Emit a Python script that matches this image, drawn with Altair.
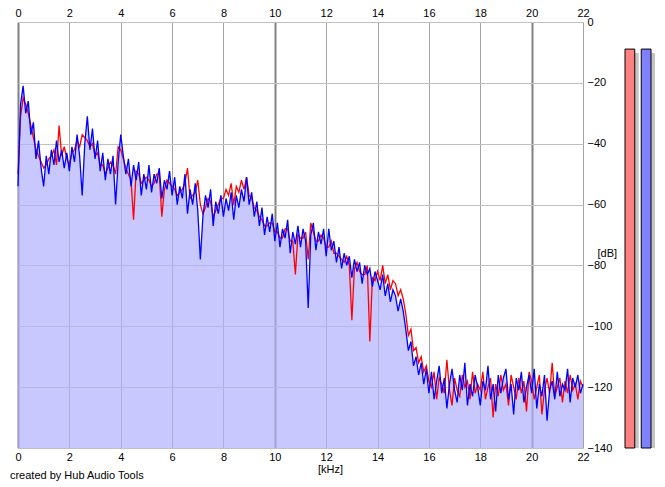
import altair as alt
import pandas as pd

# Frequency bins (kHz), 0.1 kHz spacing
freq_khz = [round(i * 0.1, 1) for i in range(221)]

# Left channel (red) level in dB
left_db = [
    -50, -31, -25, -27, -30, -34, -38, -42, -44, -46,
    -48, -47, -45, -44, -42, -47, -34, -44, -41, -45,
    -47, -43, -42, -39, -41, -37, -38, -39, -41, -40,
    -44, -43, -47, -47, -50, -48, -46, -47, -50, -41,
    -42, -45, -48, -50, -52, -65, -49, -50, -53, -52,
    -51, -52, -54, -53, -50, -50, -64, -55, -52, -53,
    -54, -55, -57, -56, -55, -53, -48, -58, -57, -56,
    -52, -60, -63, -61, -58, -59, -64, -62, -60, -58,
    -58, -55, -57, -53, -60, -54, -56, -52, -55, -51,
    -57, -58, -61, -62, -64, -65, -67, -67, -66, -66,
    -69, -69, -71, -71, -68, -68, -72, -72, -83, -70,
    -71, -71, -69, -78, -66, -69, -72, -72, -70, -71,
    -74, -74, -72, -76, -76, -77, -78, -79, -77, -80,
    -98, -81, -79, -82, -83, -83, -80, -105, -84, -85,
    -82, -85, -80, -86, -83, -88, -85, -86, -90, -88,
    -91, -96, -103, -101, -108, -107, -112, -110, -115, -113,
    -118, -120, -115, -124, -117, -119, -122, -111, -121, -126,
    -117, -121, -123, -116, -120, -118, -124, -115, -122, -119,
    -121, -115, -124, -120, -117, -130, -119, -123, -116, -121,
    -119, -126, -116, -120, -124, -117, -122, -118, -128, -115,
    -118, -124, -120, -116, -129, -121, -117, -122, -112, -123,
    -120, -117, -125, -118, -122, -116, -121, -119, -124, -118,
    -120,
]

# Right channel (blue) level in dB
right_db = [
    -54, -27, -21, -30, -26, -37, -33, -45, -39, -48,
    -54, -44, -50, -42, -47, -39, -46, -42, -48, -43,
    -49, -41, -46, -37, -44, -57, -40, -31, -42, -35,
    -45, -39, -49, -43, -52, -45, -50, -44, -60, -46,
    -37, -44, -50, -45, -54, -47, -52, -46, -57, -50,
    -55, -47, -56, -50, -53, -48, -58, -52, -55, -49,
    -57, -51, -60, -54, -58, -50, -63, -55, -60, -53,
    -62, -78, -64, -57, -61, -55, -67, -59, -63, -57,
    -64, -58, -62, -56, -65, -57, -61, -55, -59, -51,
    -60, -56, -64, -59, -67, -61, -70, -64, -69, -63,
    -72, -66, -74, -68, -71, -65, -76, -69, -73, -67,
    -74, -68, -72, -94, -70, -66, -75, -69, -73, -68,
    -77, -68, -75, -72, -79, -74, -81, -76, -80, -77,
    -84, -78, -82, -79, -86, -80, -83, -81, -87, -82,
    -85, -88, -83, -90, -86, -92, -88, -90, -95, -91,
    -95, -101, -108, -105, -113, -110, -116, -112, -119, -114,
    -122, -115, -124, -118, -113, -122, -117, -127, -119, -114,
    -121, -125, -116, -121, -112, -126, -119, -123, -116, -120,
    -126, -118, -121, -113, -124, -119, -128, -116, -122, -117,
    -114, -124, -119, -129, -117, -121, -115, -125, -120, -116,
    -122, -114, -127, -119, -123, -116, -131, -121, -118, -124,
    -115, -123, -119, -121, -114, -125, -117, -120, -116, -122,
    -119,
]

meter_channels = ["L", "R"]
meter_levels_db = [-8.9, -8.9]
meter_colors = ["#ff8080", "#8080ff"]

x_ticks = list(range(0, 23, 2))
y_ticks = list(range(0, -141, -20))

FONT = "Liberation Sans"

df = pd.DataFrame({"f": freq_khz, "red": left_db, "blue": right_db})
mdf = pd.DataFrame({"ch": meter_channels, "level": meter_levels_db})

xs = alt.Scale(domain=[0, 22], nice=False, zero=False)
ys = alt.Scale(domain=[-140, 0], nice=False)

major = "datum.value % 10 === 0"

bottom_axis = alt.Axis(
    orient="bottom", values=x_ticks, grid=True,
    gridColor=alt.condition(major, alt.value("#808080"), alt.value("#a4a4a4")),
    gridWidth=alt.condition(major, alt.value(2), alt.value(1)),
    domain=False, ticks=False, labelFlush=False, labelPadding=3,
    labelFont=FONT, labelFontSize=11, labelColor="black",
    title="[kHz]", titleFont=FONT, titleFontSize=11, titleFontWeight="normal",
    titleColor="black", titleX=312, titleY=21, titleAlign="center",
    titleBaseline="middle", titleAngle=0,
)
top_axis = alt.Axis(
    orient="top", values=x_ticks, grid=False, domain=False, ticks=False,
    labelFlush=False, labelPadding=4, labelFont=FONT, labelFontSize=11,
    labelColor="black", title=None,
)
right_axis = alt.Axis(
    orient="right", values=y_ticks, grid=True, gridColor="#c0c0c0", gridWidth=1,
    domain=False, ticks=False, labelAlign="left", labelPadding=4,
    labelFont=FONT, labelFontSize=11, labelColor="black",
    title="[dB]", titleFont=FONT, titleFontSize=11, titleFontWeight="normal",
    titleColor="black", titleAngle=0, titleX=14, titleY=231,
    titleAlign="left", titleBaseline="middle",
)

base = alt.Chart(df)
area = base.mark_area(color="#b0b0ff", opacity=0.7).encode(
    x=alt.X("f:Q", scale=xs, axis=bottom_axis),
    y=alt.Y("blue:Q", scale=ys, axis=right_axis),
    y2=alt.datum(-140),
)
red_line = base.mark_line(color="#ff0000", strokeWidth=1.3).encode(
    x=alt.X("f:Q", scale=xs, axis=top_axis),
    y=alt.Y("red:Q", scale=ys, axis=None),
)
blue_line = base.mark_line(color="#0000ff", strokeWidth=1.3).encode(
    x=alt.X("f:Q", scale=xs, axis=None),
    y=alt.Y("blue:Q", scale=ys, axis=None),
)

main = alt.layer(area, red_line, blue_line).resolve_axis(
    x="independent", y="independent"
).properties(
    width=565, height=426,
    title=alt.TitleParams(
        "created by Hub Audio Tools", orient="bottom", anchor="start",
        dx=-5, offset=-4, font=FONT, fontSize=11, fontWeight="normal",
        color="black",
    ),
)

mx = alt.X("ch:N", scale=alt.Scale(paddingInner=0.4, paddingOuter=0), axis=None)
shadow = alt.Chart(mdf).mark_bar(color="#c4c4c4", xOffset=4, yOffset=4).encode(
    x=mx, y=alt.Y("level:Q", scale=ys, axis=None), y2=alt.datum(-140)
)
bars = alt.Chart(mdf).mark_bar(stroke="black", strokeWidth=1, opacity=1).encode(
    x=mx,
    y=alt.Y("level:Q", scale=ys, axis=None),
    y2=alt.datum(-140),
    color=alt.Color("ch:N", scale=alt.Scale(domain=meter_channels, range=meter_colors), legend=None),
)
meter = alt.layer(shadow, bars).properties(width=26, height=426)

chart = alt.hconcat(
    main, meter, spacing=42, bounds="flush",
    padding={"left": 1, "top": -1, "right": 0, "bottom": 0},
).configure_view(strokeWidth=0)

chart.save("out.html", embed_options={"renderer": "svg", "actions": False})
